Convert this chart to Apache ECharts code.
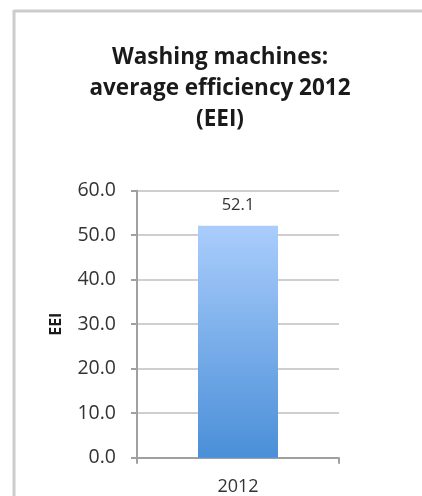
<!DOCTYPE html>
<html><head><meta charset="utf-8">
<script src="https://cdn.jsdelivr.net/npm/echarts@6/dist/echarts.min.js"></script>
<style>html,body{margin:0;padding:0;background:#fff}#c{width:422px;height:496px}</style>
</head><body><div id="c"></div>
<script>
const categories = ['2012'];
const values = [52.1];
const titleText = 'Washing machines:\naverage efficiency 2012\n(EEI)';
const yAxisName = 'EEI';

const chart = echarts.init(document.getElementById('c'));
chart.setOption({
  animation: false,
  graphic: [
    {type: 'line', shape: {x1: 14, y1: 11, x2: 422, y2: 11}, style: {stroke: '#cccccc', lineWidth: 3}},
    {type: 'line', shape: {x1: 14, y1: 10, x2: 14, y2: 496}, style: {stroke: '#cccccc', lineWidth: 3}}
  ],
  title: {
    text: titleText, left: 215, top: 37, textAlign: 'center',
    textStyle: {fontFamily: 'Open Sans', fontWeight: 'bold', fontSize: 22.5, lineHeight: 31, color: '#1a1a1a'}
  },
  grid: {left: 137, right: 83, top: 190.7, bottom: 38.3},
  xAxis: {
    type: 'category', data: categories,
    axisLine: {lineStyle: {color: '#a0a0a0', width: 2}},
    axisTick: {show: true, length: 6, alignWithLabel: false, lineStyle: {color: '#a0a0a0', width: 2}},
    axisLabel: {fontFamily: 'Open Sans', fontSize: 18, color: '#333', margin: 20}
  },
  yAxis: {
    type: 'value', min: 0, max: 60, interval: 10,
    name: yAxisName, nameLocation: 'middle', nameGap: 73, nameRotate: 90,
    nameTextStyle: {fontFamily: 'Open Sans', fontWeight: 'bold', fontSize: 16, color: '#1a1a1a'},
    axisLine: {show: true, lineStyle: {color: '#a0a0a0', width: 2}},
    axisTick: {show: true, length: 6, lineStyle: {color: '#a0a0a0', width: 2}},
    splitLine: {lineStyle: {color: '#cfcfcf', width: 2}},
    axisLabel: {fontFamily: 'Open Sans', fontSize: 19.5, color: '#333', margin: 21,
      formatter: v => v.toFixed(1)}
  },
  series: [{
    type: 'bar', data: values, barWidth: 80,
    itemStyle: {color: new echarts.graphic.LinearGradient(0, 0, 0, 1, [
      {offset: 0, color: '#aacdfc'}, {offset: 1, color: '#4a8fd8'}])},
    label: {show: true, position: 'top', distance: 12, fontFamily: 'Open Sans', fontSize: 16.5, color: '#333',
      formatter: p => p.value.toFixed(1)}
  }]
});
</script></body></html>
